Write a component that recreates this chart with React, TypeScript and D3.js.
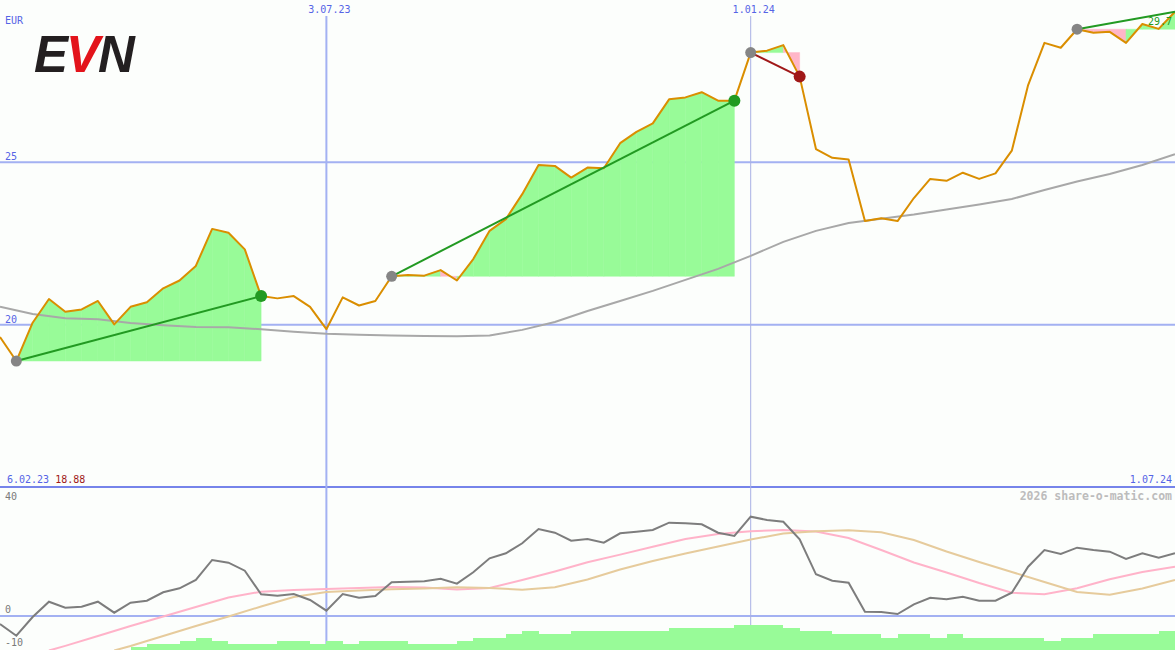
import React from 'react';
import * as d3 from 'd3';

// ---------- data ----------
const LAST_WEEK = 72;
const closes = [
  19.62, 18.88, 20.06, 20.79, 20.40, 20.47, 20.73, 20.01, 20.55, 20.69,
  21.12, 21.36, 21.81, 22.95, 22.83, 22.32, 20.88, 20.81, 20.88, 20.55,
  19.86, 20.84, 20.59, 20.73, 21.49, 21.53, 21.51, 21.68, 21.36, 22.02,
  22.89, 23.25, 24.02, 24.92, 24.89, 24.53, 24.84, 24.82, 25.59, 25.94,
  26.20, 26.94, 27.00, 27.16, 26.90, 26.90, 28.38, 28.44, 28.61, 27.64,
  25.41, 25.14, 25.09, 23.19, 23.28, 23.19, 23.90, 24.49, 24.43, 24.68,
  24.49, 24.66, 25.36, 27.38, 28.68, 28.53, 29.10, 28.99, 29.02, 28.68,
  29.26, 29.11, 29.64,
];
const maWeeks = d3.range(0, 73, 2);
const maValues = [
  20.55, 20.33, 20.20, 20.17, 20.05, 19.98, 19.93, 19.92, 19.86, 19.78,
  19.72, 19.69, 19.67, 19.65, 19.64, 19.67, 19.84, 20.08, 20.42, 20.73,
  21.04, 21.38, 21.72, 22.12, 22.55, 22.89, 23.13, 23.26, 23.39, 23.55,
  23.70, 23.87, 24.15, 24.41, 24.64, 24.92, 25.25,
];
const oscValues = [
  -2.67, -6.57, -0.33, 4.77, 2.77, 3.1, 4.77, 1.1, 4.43, 5.1,
  7.9, 9.23, 12, 18.67, 17.77, 15.1, 7.23, 6.77, 7.33, 5.33,
  1.77, 7.33, 6.1, 6.67, 11.23, 11.43, 11.57, 12.43, 10.77, 14.57,
  19.23, 20.9, 24.23, 29, 27.77, 25.1, 25.67, 24.43, 27.57, 28.1,
  28.67, 31.1, 30.9, 30.57, 27.77, 26.67, 33.1, 32, 31.43, 25.57,
  13.9, 11.77, 11.1, 1.43, 1.33, 0.67, 3.9, 6.1, 5.57, 6.43,
  5.1, 5.1, 7.77, 16.43, 22, 20.67, 22.77, 22, 21.43, 19,
  20.9, 19.43, 20.9,
];
const pinkWeeks = [3, ...d3.range(4, 73, 2)];
const pinkValues = [
  -11.5, -9.97, -6.67, -3.33, -0.17, 3.0, 6.17, 8.1, 8.67, 9.0,
  9.33, 9.67, 9.5, 8.83, 9.33, 12, 14.83, 17.9, 20.45, 23.1,
  25.67, 27.33, 28.23, 28.67, 28.17, 26, 22, 17.83, 14.5, 11,
  7.77, 7.23, 9.23, 12.23, 14.67, 16.43,
];
const tanWeeks = [7, ...d3.range(8, 73, 2)];
const tanValues = [
  -11.5, -10, -6.67, -3.33, -0.17, 3.17, 6.33, 8, 8.5, 8.9,
  9.17, 9.57, 9.33, 8.77, 9.6, 12.17, 15.5, 18.33, 20.83, 23.17,
  25.5, 27.5, 28.23, 28.6, 27.9, 25.33, 21.5, 18, 14.67, 11.33,
  8, 7.1, 9.17, 12,
];
const barStart = 8;
const barValues = [
  1, 2, 2, 3, 4, 3, 2, 2, 2, 3, 3, 2, 3, 2, 3, 3, 3, 2, 2, 2,
  3, 4, 4, 5, 6, 5, 5, 6, 6, 6, 6, 6, 6, 7, 7, 7, 7, 8, 8, 8,
  7, 6, 6, 5, 5, 5, 4, 5, 5, 4, 5, 4, 4, 4, 4, 4, 3, 4, 4, 5,
  5, 5, 5, 6,
];
const tradeEntries = [1, 24, 46, 66];
const tradeExits = [16, 45, 49, null];
const tradeSides = ['long', 'long', 'short', 'long'];
const xTickWeeks = [20, 46];
const xTickLabels = ['3.07.23', '1.01.24'];
const priceTicks = [20, 25];
const oscTicks = [40, 0, -10];
const startLabel = '6.02.23';
const startPrice = '18.88';
const endLabel = '1.07.24';
const lastLabel = '29.7';

// ---------- styling ----------
const W = 1175;
const H = 650;
const BG = '#fcfefc';
const BLUE_TEXT = '#5564e6';
const GRID = '#a3b1f2';
const MONO = '"DejaVu Sans Mono", "Liberation Mono", monospace';
const GREEN_FILL = '#98fb98';
const PINK_FILL = '#ffb6c8';

export default function App() {
  const x = d3.scaleLinear().domain([0, LAST_WEEK]).range([0, W]);
  const y = d3.scaleLinear().domain([15, 30]).range([487, 0]);
  const yo = d3.scaleLinear().domain([-10, 40]).range([646, 496]);
  const yb = d3.scaleLinear().domain([0, 8]).range([650, 625]);

  const priceLine = d3.line<number>().x((_, i) => x(i)).y((d) => y(d))(closes) || '';
  const maLine = d3.line<number>().x((_, i) => x(maWeeks[i])).y((d) => y(d))(maValues) || '';
  const oscLine = d3.line<number>().x((_, i) => x(i)).y((d) => yo(d))(oscValues) || '';
  const pinkLine = d3.line<number>().x((_, i) => x(pinkWeeks[i])).y((d) => yo(d))(pinkValues) || '';
  const tanLine = d3.line<number>().x((_, i) => x(tanWeeks[i])).y((d) => yo(d))(tanValues) || '';

  const fills: { d: string; c: string }[] = [];
  tradeEntries.forEach((e, t) => {
    const end = tradeExits[t] ?? LAST_WEEK;
    const base = closes[e];
    for (let k = e; k < end; k++) {
      const pts: [number, number][] = [
        [x(k), y(base)],
        [x(k), y(closes[k])],
        [x(k + 1), y(closes[k + 1])],
        [x(k + 1), y(base)],
      ];
      fills.push({
        d: 'M' + pts.map((p) => p.join(',')).join('L') + 'Z',
        c: closes[k + 1] >= base ? GREEN_FILL : PINK_FILL,
      });
    }
  });

  return (
    <div style={{ position: 'absolute', left: 0, top: 0, width: W, height: H, overflow: 'hidden' }}>
      <svg width={W} height={H} style={{ display: 'block', background: BG }}>
        <rect x={0} y={0} width={W} height={H} fill={BG} />

        {/* horizontal grid */}
        {priceTicks.map((t) => (
          <line key={'pg' + t} x1={0} x2={W} y1={y(t)} y2={y(t)} stroke={GRID} strokeWidth={2} />
        ))}
        <line x1={0} x2={W} y1={yo(0)} y2={yo(0)} stroke={GRID} strokeWidth={2} />
        <line x1={0} x2={W} y1={487} y2={487} stroke="#7684ea" strokeWidth={2} />

        {/* vertical grid */}
        {xTickWeeks.map((w, i) => (
          <line
            key={'vg' + w}
            x1={x(w)}
            x2={x(w)}
            y1={16}
            y2={H}
            stroke={i === 0 ? GRID : '#a8b0e4'}
            strokeWidth={i === 0 ? 2 : 1}
          />
        ))}

        {/* trade fills */}
        {fills.map((f, i) => (
          <path key={'f' + i} d={f.d} fill={f.c} stroke={f.c} strokeWidth={0.5} />
        ))}

        {/* moving average */}
        <path d={maLine} fill="none" stroke="#a8a8a8" strokeWidth={2} />
        {/* price */}
        <path d={priceLine} fill="none" stroke="#da8e00" strokeWidth={2} strokeLinejoin="round" />

        {/* trade lines & dots */}
        {tradeEntries.map((e, t) => {
          const end = tradeExits[t] ?? LAST_WEEK;
          const col = tradeSides[t] === 'short' ? '#a01818' : '#229a22';
          return (
            <g key={'t' + t}>
              <line x1={x(e)} y1={y(closes[e])} x2={x(end)} y2={y(closes[end])} stroke={col} strokeWidth={2} />
              <circle cx={x(e)} cy={y(closes[e])} r={5.5} fill="#858585" />
              {tradeExits[t] !== null && (
                <circle cx={x(end)} cy={y(closes[end])} r={6} fill={col} />
              )}
            </g>
          );
        })}

        {/* lower panel */}
        {barValues.map((v, i) => (
          <rect
            key={'b' + i}
            x={x(barStart + i)}
            y={yb(v)}
            width={x(barStart + i + 1) - x(barStart + i)}
            height={yb(0) - yb(v)}
            fill={GREEN_FILL}
            shapeRendering="crispEdges"
          />
        ))}
        <path d={pinkLine} fill="none" stroke="#ffb3c9" strokeWidth={2} />
        <path d={tanLine} fill="none" stroke="#e6cb9c" strokeWidth={2} />
        <path d={oscLine} fill="none" stroke="#7d7d7d" strokeWidth={2} />

        {/* texts */}
        <text x={5} y={24} fontFamily={MONO} fontSize={10} fill={BLUE_TEXT}>EUR</text>
        {priceTicks.map((t) => (
          <text key={'pt' + t} x={5} y={y(t) - 2} fontFamily={MONO} fontSize={10} fill={BLUE_TEXT}>{t}</text>
        ))}
        {xTickWeeks.map((w, i) => (
          <text key={'xt' + w} x={x(w) + 3} y={13} textAnchor="middle" fontFamily={MONO} fontSize={10} fill={BLUE_TEXT}>
            {xTickLabels[i]}
          </text>
        ))}
        <text x={7} y={483} fontFamily={MONO} fontSize={10}>
          <tspan fill={BLUE_TEXT}>{startLabel} </tspan>
          <tspan fill="#a01818">{startPrice}</tspan>
        </text>
        <text x={1172} y={483} textAnchor="end" fontFamily={MONO} fontSize={10} fill={BLUE_TEXT}>{endLabel}</text>
        <text x={1172} y={500} textAnchor="end" fontFamily={MONO} fontSize={11.5} fontWeight="bold" fill="#bcbcbc">
          2026 share-o-matic.com
        </text>
        {oscTicks.map((t) => (
          <text key={'ot' + t} x={5} y={t === 40 ? 500 : t === 0 ? 613 : 646} fontFamily={MONO} fontSize={10} fill="#7a7a7a">
            {t}
          </text>
        ))}
        <text x={1172} y={25} textAnchor="end" fontFamily={MONO} fontSize={10} fill="#229a22">{lastLabel}</text>

        {/* logo */}
        <text x={34} y={72} fontFamily='"Liberation Sans", Arial, sans-serif' fontWeight={900} fontStyle="italic" fontSize={51} letterSpacing={-2}>
          <tspan fill="#231f20">E</tspan>
          <tspan fill="#e3141b">V</tspan>
          <tspan fill="#231f20">N</tspan>
        </text>
      </svg>
    </div>
  );
}
